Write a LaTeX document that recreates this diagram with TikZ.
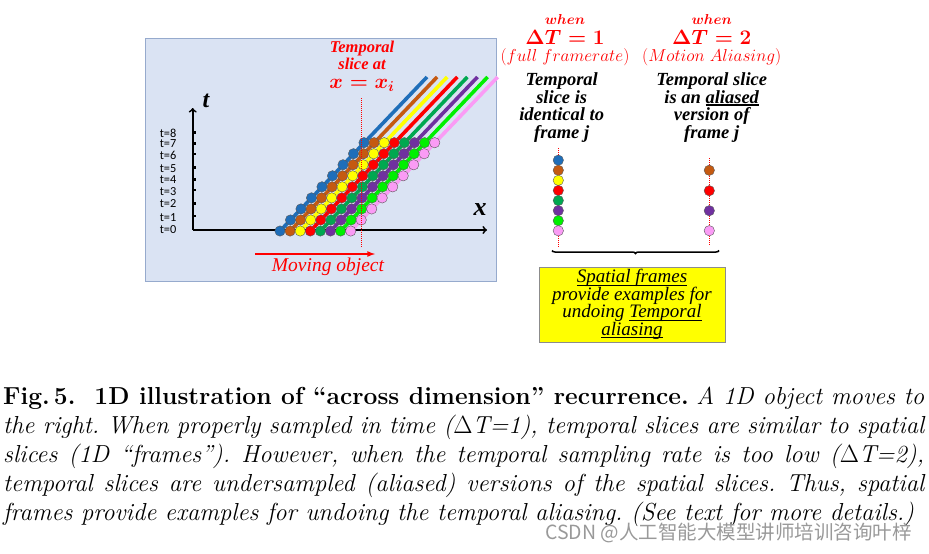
\documentclass[tikz,border=0pt]{standalone}
\usepackage{amsmath}
\usepackage{amssymb}
\usepackage{fontspec}
\newfontfamily\timesfont{Liberation Serif}
\newfontfamily\calfont{Carlito}
\newfontfamily\cjk{Noto Sans CJK SC}
\usepackage{tikz}
\usetikzlibrary{arrows,calc,decorations.pathreplacing}

\definecolor{panelbg}{RGB}{218,227,243}
\definecolor{panelline}{RGB}{150,170,205}
\definecolor{cblue}{RGB}{31,110,185}
\definecolor{cbrown}{RGB}{197,90,17}
\definecolor{cyellow}{RGB}{255,255,0}
\definecolor{cred}{RGB}{255,0,0}
\definecolor{cdgreen}{RGB}{0,168,80}
\definecolor{cpurple}{RGB}{112,48,160}
\definecolor{cgreen}{RGB}{0,240,0}
\definecolor{cpink}{RGB}{250,155,245}
\definecolor{boxyellow}{RGB}{255,255,0}

\newcommand{\undl}[2][0.8pt]{\setbox0\hbox{#2}\rlap{\rule[-2.6pt]{\wd0}{#1}}\box0}

\begin{document}
\begin{tikzpicture}[x=1pt,y=-1pt,
    dot/.style={circle,draw=black!65,line width=0.4pt,inner sep=0pt,minimum size=10.4pt},
    track/.style={line width=3.6pt},
    slice/.style={red,densely dotted,line width=1pt},
    axis/.style={line width=1.8pt,-to},
    ticklab/.style={font=\calfont\fontsize{12.3}{12.3}\selectfont,inner sep=0pt},
    redtxt/.style={red,font=\timesfont\bfseries\itshape\fontsize{16.5}{17}\selectfont,align=center,inner sep=0pt},
    blacktxt/.style={font=\timesfont\bfseries\itshape\fontsize{18.5}{17.7}\selectfont,align=center,inner sep=0pt},
    spbox/.style={draw=black!45,fill=boxyellow,minimum width=186pt,minimum height=75pt,align=center,
        font=\timesfont\itshape\fontsize{19}{17.5}\selectfont,inner sep=0pt}]
    \useasboundingbox (0,0) rectangle (929,554);

    \draw [panelline,fill=panelbg] (145,38) rectangle (496,281);

    % axes
    \coordinate (o) at (192.7,230);
    \draw [axis] (o) -- (192.7,108);
    \draw [axis] (o) -- (487,230);
    \node [font=\timesfont\bfseries\itshape\fontsize{24}{24}\selectfont] (tlab) at (206,101) {t};
    \node [font=\timesfont\bfseries\itshape\fontsize{26}{26}\selectfont] (xlab) at (480,210) {x};
    \foreach \t/\y/\ty in {0/230/0,1/217.3/216,2/204/203.3,3/191.7/190,4/179.3/179.3,
            5/168.7/167.7,6/155.7/154,7/144/143.3,8/133/132.7} {
        \node [ticklab] (tk\t) at (168,\y) {t=\t};
        \ifnum\t>0 \draw [line width=2.6pt] (192,\ty) -- (196,\ty); \fi
    }

    % moving object
    \foreach \c [count=\k from 0] in {cblue,cbrown,cyellow,cred,cdgreen,cpurple,cgreen,cpink}
        \draw [track,\c] (280+10.1*\k,231) -- ++(147,-154);
    \foreach \t in {0,...,8}
        \foreach \c [count=\k from 0] in {cblue,cbrown,cyellow,cred,cdgreen,cpurple,cgreen,cpink}
            \node [dot,fill=\c] (d\t-\k) at (280+10.1*\k+10.5*\t,231-11.04*\t) {};
    \draw [slice] (361,98) -- (361,247);
    \node [redtxt] (slicelab) at (362,66) {Temporal\\slice at\\[2pt]{\fontsize{20}{20}\selectfont$\boldsymbol{x=x_i}$}};

    \coordinate (mv1) at (255,254);
    \coordinate (mv2) at (375,254);
    \draw [red,line width=1.6pt,-latex] (mv1) -- (mv2);
    \node [red,font=\timesfont\itshape\fontsize{19.5}{19.5}\selectfont] (mvlab) at (328,267) {Moving object};

    % the two slices
    \node [red] (when1) at (565,19.5) {\fontsize{15}{15}\selectfont$\boldsymbol{when}$};
    \node [red] (dt1) at (565,37) {\fontsize{21}{21}\selectfont$\boldsymbol{\Delta T=1}$};
    \node [red] (fr1) at (565,57) {\fontsize{17}{17}\selectfont$(full\ framerate)$};
    \node [blacktxt] (txt1) at (561.7,107.5) {Temporal\\slice is\\identical to\\frame j};

    \node [red] (when2) at (711.7,19.5) {\fontsize{15}{15}\selectfont$\boldsymbol{when}$};
    \node [red] (dt2) at (711.7,37) {\fontsize{21}{21}\selectfont$\boldsymbol{\Delta T=2}$};
    \node [red] (fr2) at (711.7,57) {\fontsize{17}{17}\selectfont$(Motion\ Aliasing)$};
    \node [blacktxt] (txt2) at (711.7,107.5) {Temporal slice\\is an \undl[1.7pt]{aliased}\\version of\\frame j};

    \draw [slice] (558.3,148) -- (558.3,247);
    \foreach \c [count=\k from 0] in {cblue,cbrown,cyellow,cred,cdgreen,cpurple,cgreen,cpink}
        \node [dot,fill=\c] (a\k) at (558.3,160.2+10.08*\k) {};
    \draw [slice] (709.3,158) -- (709.3,246);
    \foreach \c/\y [count=\k] in {cbrown/170.3,cred/190.7,cpurple/210.7,cpink/230.7}
        \node [dot,fill=\c] (b\k) at (709.3,\y) {};

    \draw [decorate,decoration={brace,amplitude=3pt,mirror},line width=1.5pt] (552,250.5) -- (719,250.5);
    \node [spbox] (spatial) at (632,304.5)
        {\undl{Spatial frames}\\provide examples for\\undoing \undl{Temporal}\\\undl{aliasing}};

    % caption
    \node [anchor=base west,text width=921pt,align=justify,inner sep=0pt,
        font=\frenchspacing\fontsize{24.6}{29}\selectfont] (caption) at (3,404)
        {\textbf{Fig.\,5.\ \ 1D illustration of ``across dimension'' recurrence.} \textit{A 1D object moves to\linebreak
        the right. When properly sampled in time ($\Delta$T=1), temporal slices are similar to spatial\linebreak
        slices (1D ``frames''). However, when the temporal sampling rate is too low ($\Delta$T=2),\linebreak
        temporal slices are undersampled (aliased) versions of the spatial slices. Thus, spatial\linebreak
        frames provide examples for undoing the temporal aliasing. (See text for more details.)}};
    \node [black!40,font=\cjk\fontsize{19.5}{19.5}\selectfont,anchor=east,inner sep=0pt] (mark) at (912,533) {CSDN @人工智能大模型讲师培训咨询叶梓};
\end{tikzpicture}
\end{document}
